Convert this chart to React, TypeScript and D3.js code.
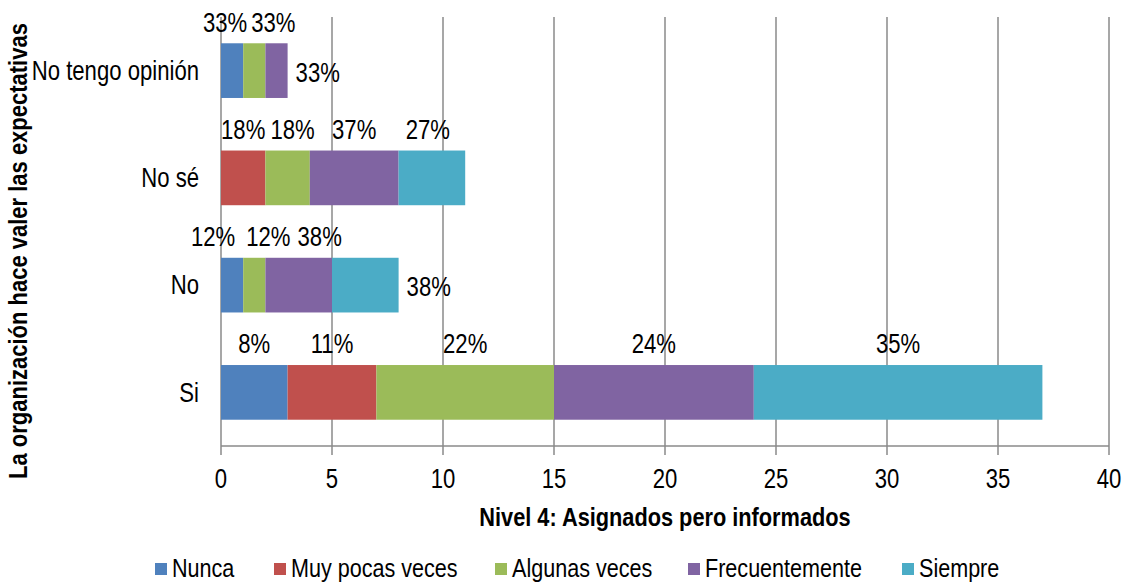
import React, { useRef, useEffect } from "react";
import * as d3 from "d3";

// categories bottom -> top as read in the chart
const categories = ["Si", "No", "No sé", "No tengo opinión"];
const seriesNames = ["Nunca", "Muy pocas veces", "Algunas veces", "Frecuentemente", "Siempre"];
const nunca = [3, 1, 0, 1];
const muyPocas = [4, 0, 2, 0];
const algunas = [8, 1, 2, 1];
const frecuentemente = [9, 3, 4, 1];
const siempre = [13, 3, 3, 0];
// percent labels as printed on the chart
const pctNunca = ["8%", "12%", "", "33%"];
const pctMuyPocas = ["11%", "", "18%", ""];
const pctAlgunas = ["22%", "12%", "18%", "33%"];
const pctFrec = ["24%", "38%", "37%", "33%"];
const pctSiempre = ["35%", "38%", "27%", ""];
const xTicks = [0, 5, 10, 15, 20, 25, 30, 35, 40];

const colors = ["#4F81BD", "#C0504D", "#9BBB59", "#8064A2", "#4BACC6"];
const FONT = "'Liberation Sans', Arial, sans-serif";
const NARROW = 0.82; // fake Arial Narrow by squeezing

// manual nudges for labels that were moved in the original (key: series-category)
const nudge: Record<string, number> = {
  "0-1": -19, "2-1": 14, "3-1": 21, "0-3": -7, "2-3": 19, "2-2": 5, "4-2": -4,
};
const rightSide = new Set(["4-1", "3-3"]);

const App = () => {
  const ref = useRef<SVGSVGElement>(null);

  useEffect(() => {
    document.body.style.margin = "0";
    const svg = d3.select(ref.current);
    svg.selectAll("*").remove();

    const label = (
      parent: any,
      px: number,
      py: number,
      txt: string,
      anchor = "middle",
      size = 27,
      bold = false,
      sx = NARROW,
      rot = 0
    ) => {
      const g = parent
        .append("g")
        .attr("transform", `translate(${px},${py}) rotate(${rot}) scale(${sx},1)`);
      g.append("text")
        .attr("text-anchor", anchor)
        .attr("dominant-baseline", "central")
        .attr("font-family", FONT)
        .attr("font-size", size)
        .attr("font-weight", bold ? "bold" : "normal")
        .attr("fill", "#000")
        .text(txt);
    };

    const x = d3.scaleLinear().domain([0, 40]).range([221, 1109]);
    const y = d3
      .scaleBand()
      .domain([...categories].reverse())
      .range([17, 446])
      .padding(0);
    const barH = y.bandwidth() * 0.51;

    const values = [nunca, muyPocas, algunas, frecuentemente, siempre];
    const pcts = [pctNunca, pctMuyPocas, pctAlgunas, pctFrec, pctSiempre];
    const rows = categories.map((c, i) => {
      const r: any = { cat: c };
      seriesNames.forEach((s, j) => (r[s] = values[j][i]));
      return r;
    });
    const stacked = d3.stack().keys(seriesNames)(rows);

    // grid
    svg
      .append("g")
      .selectAll("line")
      .data(xTicks)
      .enter()
      .append("line")
      .attr("x1", (d) => x(d))
      .attr("x2", (d) => x(d))
      .attr("y1", 17)
      .attr("y2", 455)
      .attr("stroke", "#8a8a8a")
      .attr("stroke-width", 1.5);

    svg
      .append("line")
      .attr("x1", x(0))
      .attr("x2", x(40))
      .attr("y1", 446)
      .attr("y2", 446)
      .attr("stroke", "#8a8a8a")
      .attr("stroke-width", 1.5);

    // bars
    stacked.forEach((layer, j) => {
      svg
        .append("g")
        .selectAll("rect")
        .data(layer)
        .enter()
        .append("rect")
        .attr("x", (d) => x(d[0]))
        .attr("width", (d) => x(d[1]) - x(d[0]))
        .attr("y", (d) => y((d.data as any).cat)! + (y.bandwidth() - barH) / 2)
        .attr("height", barH)
        .attr("fill", colors[j]);
    });

    // data labels
    stacked.forEach((layer, j) => {
      layer.forEach((d, i) => {
        const txt = pcts[j][i];
        if (!txt) return;
        const key = `${j}-${i}`;
        const top = y((d.data as any).cat)! + (y.bandwidth() - barH) / 2;
        if (rightSide.has(key)) {
          label(svg, x(d[1]) + 8, top + barH / 2 + 2, txt, "start");
        } else {
          label(svg, x((d[0] + d[1]) / 2) + (nudge[key] || 0), top - 21, txt);
        }
      });
    });

    // category labels
    categories.forEach((c) => label(svg, 199, y(c)! + y.bandwidth() / 2, c, "end"));

    // x tick labels
    xTicks.forEach((t) => label(svg, x(t), 479, String(t)));

    // axis titles
    label(svg, 665, 517, "Nivel 4: Asignados pero informados", "middle", 25, true, 0.87);
    label(svg, 19, 251, "La organización hace valer las expectativas", "middle", 25, true, 0.88, -90);

    // legend
    const legendX = [155, 274, 495, 688, 902];
    seriesNames.forEach((s, j) => {
      svg
        .append("rect")
        .attr("x", legendX[j])
        .attr("y", 563)
        .attr("width", 12)
        .attr("height", 12)
        .attr("fill", colors[j]);
      label(svg, legendX[j] + 17, 568, s, "start", 26, false, 0.83);
    });
  }, []);

  return <svg ref={ref} width={1127} height={583} style={{ display: "block", background: "#fff" }} />;
};

export default App;
